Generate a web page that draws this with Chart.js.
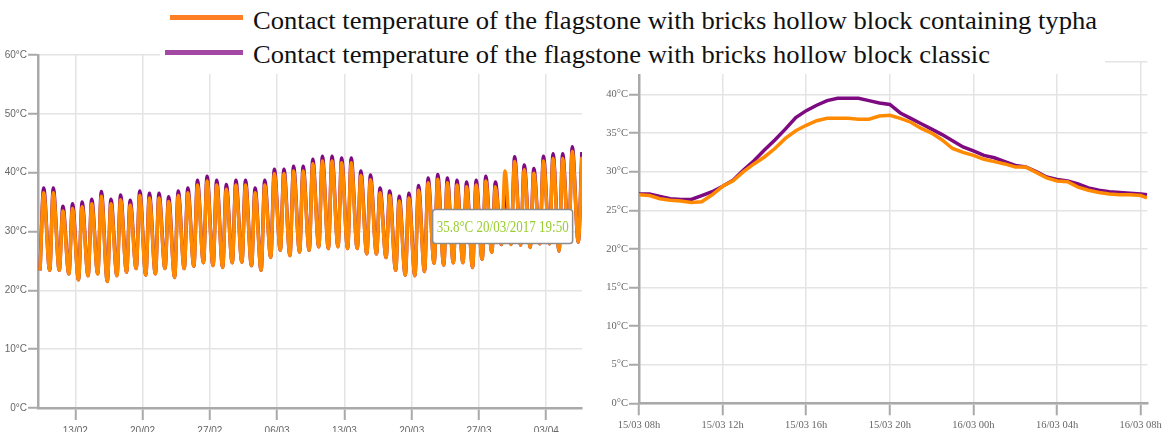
<!DOCTYPE html>
<html>
<head>
<meta charset="utf-8">
<script src="https://cdn.jsdelivr.net/npm/chart.js@4.4.1/dist/chart.umd.min.js"></script>
<style>
  html, body { margin: 0; padding: 0; background: #fff; overflow: hidden; width: 1166px; height: 432px; }
  #left { position: absolute; left: 0; top: 40px; }
  #right { position: absolute; left: 590px; top: 40px; }
  #legend { position: absolute; left: 160px; top: 0; width: 945px; height: 74px; background: #fff;
            font-family: "Liberation Serif", "Times New Roman", serif; font-size: 25px; color: #111; }
  .swatch { position: absolute; height: 5px; }
  .label { position: absolute; left: 93px; white-space: nowrap; line-height: 25px; transform-origin: 0 50%; }
</style>
</head>
<body>
<canvas id="left" width="600" height="400"></canvas>
<canvas id="right" width="576" height="392"></canvas>
<div id="legend"></div>

<script>
// ---- data ----
const seriesNames = [
  'Contact temperature of the flagstone with bricks hollow block containing typha',
  'Contact temperature of the flagstone with bricks hollow block classic'
];

// left chart: daily minimum / maximum, one value per day starting 09/02/2017
// (day numbers are counted from 13/02 = 0)
const leftFirstDay = -4;
const leftTroughHour = 8;
const leftPeakHour = 17;
const leftTrough = [
  23.4, 23.4, 23.4, 22.8, 21.8, 22.5, 22.8, 21.5, 22.5, 23.1,
  23.7, 22.6, 22.8, 23.7, 22.2, 23.7, 24.1, 24.7, 24.2, 23.9,
  24.7, 24.8, 24.2, 23.4, 25.6, 26.8, 25.9, 26.5,
  26.8, 27.4, 27.1, 27.4, 27.1, 27.1, 26.2, 26.2, 25.6, 23.4,
  22.6, 22.5, 23.2, 24.6, 24.3, 24.7, 24.7, 23.9, 25.3, 26.5,
  27.8, 27.8, 27.7, 27.3, 27.9, 27.9, 26.7, 28.3, 28.2
];
const leftPeakClassic = [
  37.4, 37.4, 34.3, 34.7, 35.0, 35.5, 36.8, 35.5, 36.2, 35.3,
  36.9, 36.5, 36.5, 35.9, 36.9, 37.4, 38.7, 39.4, 38.7, 38.0,
  38.7, 38.7, 37.4, 38.7, 40.6, 40.6, 41.1, 41.1,
  42.3, 42.8, 42.8, 42.5, 42.5, 40.3, 39.6, 37.4, 36.9, 36.0,
  36.5, 37.8, 39.1, 39.7, 39.1, 38.7, 38.4, 38.7, 39.4, 38.4,
  37.2, 42.7, 41.3, 40.7, 42.8, 43.2, 43.2, 44.4, 43.5
];
const leftPeakTypha = [
  36.6, 36.6, 33.5, 33.9, 34.2, 34.7, 36.0, 34.7, 35.4, 34.5,
  36.1, 35.7, 35.7, 35.1, 36.1, 36.6, 37.9, 38.6, 37.9, 37.2,
  37.9, 37.9, 36.6, 37.9, 39.8, 39.8, 40.3, 40.3,
  41.5, 42.0, 42.0, 41.7, 41.7, 39.5, 38.8, 36.6, 36.1, 35.2,
  35.7, 37.0, 38.3, 38.9, 38.3, 37.9, 37.6, 37.9, 38.6, 37.6,
  40.3, 41.9, 40.5, 39.9, 42.0, 42.4, 42.4, 43.6, 42.7
];
const leftTickDays = [0, 7, 14, 21, 28, 35, 42, 49];
const leftTickLabels = ['13/02', '20/02', '27/02', '06/03', '13/03', '20/03', '27/03', '03/04'];
const leftYTicks = [0, 10, 20, 30, 40, 50, 60];

// hovered value shown in the left chart
const tipDay = 35 + (19 + 50 / 60) / 24;
const tipValue = 35.8;
const tipText = '35.8°C 20/03/2017 19:50';

// right chart: 15/03 08h -> 16/03 08h, hours from 15/03 08h
const rightHours = [
  0, 0.5, 1, 1.5, 2, 2.5, 3, 3.5, 4, 4.5, 5, 5.5, 6, 6.5, 7, 7.5, 8, 8.5, 9, 9.5,
  10, 10.5, 11, 11.5, 12, 12.5, 13, 13.5, 14, 14.5, 15, 15.5, 16, 16.5, 17, 17.5,
  18, 18.5, 19, 19.5, 20, 20.5, 21, 21.5, 22, 22.5, 23, 23.5, 24, 24.3
];
const rightTypha = [
  27.0, 26.9, 26.5, 26.3, 26.2, 26.0, 26.1, 27.0, 28.1, 28.8, 30.0, 31.0, 31.9, 33.0, 34.3, 35.3, 36.0, 36.6, 36.9, 36.9,
  36.9, 36.8, 36.8, 37.2, 37.3, 36.9, 36.4, 35.6, 35.0, 34.1, 33.0, 32.5, 32.1, 31.6, 31.3, 31.0,
  30.6, 30.6, 29.9, 29.2, 28.8, 28.7, 28.0, 27.6, 27.3, 27.1, 27.0, 27.0, 26.9, 26.6
];
const rightClassic = [
  27.1, 27.1, 26.8, 26.5, 26.4, 26.4, 26.9, 27.4, 28.1, 28.9, 30.2, 31.4, 32.8, 34.1, 35.5, 37.0, 37.9, 38.6, 39.2, 39.5,
  39.5, 39.5, 39.2, 38.9, 38.7, 37.6, 36.9, 36.2, 35.5, 34.8, 34.0, 33.2, 32.7, 32.1, 31.8, 31.3,
  30.8, 30.6, 30.0, 29.3, 29.0, 28.8, 28.4, 27.9, 27.6, 27.4, 27.3, 27.2, 27.1, 27.0
];
const rightTickHours = [0, 4, 8, 12, 16, 20, 24];
const rightTickLabels = ['15/03 08h', '15/03 12h', '15/03 16h', '15/03 20h', '16/03 00h', '16/03 04h', '16/03 08h'];
const rightYTicks = [0, 5, 10, 15, 20, 25, 30, 35, 40];

// ---- styles ----
const lineOrange = '#ff8a00';
const linePurple = '#7d0a80';
const legendColors = ['#ff7f27', '#a349a4'];
const gridColor = '#e4e4e4';
const axisColor = '#a9a9a9';

// ---- legend (shared by both charts) ----
const legend = document.getElementById('legend');
const labelEls = [];
seriesNames.forEach((name, i) => {
  const sw = document.createElement('div');
  sw.className = 'swatch';
  sw.style.background = legendColors[i];
  sw.style.left = (i === 0 ? 10 : 5) + 'px';
  sw.style.width = (i === 0 ? 73 : 78) + 'px';
  sw.style.top = (i === 0 ? 15 : 50) + 'px';
  legend.appendChild(sw);
  const lb = document.createElement('div');
  lb.className = 'label';
  lb.style.top = (i === 0 ? 8 : 42) + 'px';
  lb.textContent = name;
  legend.appendChild(lb);
  labelEls.push(lb);
});
// the first label spans about 844px in the picture, both rows share the stretch
const stretch = 844 / labelEls[0].getBoundingClientRect().width;
labelEls.forEach(el => { el.style.transform = 'scaleX(' + stretch + ')'; });

// ---- build points ----
function dailyPoints(peaks) {
  const pts = [];
  peaks.forEach((p, i) => {
    const d = leftFirstDay + i;
    pts.push({ x: d + leftTroughHour / 24, y: leftTrough[i] });
    pts.push({ x: d + leftPeakHour / 24, y: p });
  });
  return pts;
}
const leftTyphaPts = dailyPoints(leftPeakTypha);
const leftClassicPts = dailyPoints(leftPeakClassic);

const tipPlugin = {
  id: 'tip',
  afterDatasetsDraw(chart) {
    const { ctx, scales } = chart;
    const px = scales.x.getPixelForValue(tipDay);
    const py = scales.y.getPixelForValue(tipValue);
    const bx = px + 13, by = py + 12, w = 140, h = 34;
    ctx.save();
    ctx.beginPath();
    ctx.roundRect(bx, by, w, h, 3);
    ctx.fillStyle = '#fff';
    ctx.fill();
    ctx.lineWidth = 1.5;
    ctx.strokeStyle = '#8c8c8c';
    ctx.stroke();
    ctx.font = '17px "Liberation Serif"';
    ctx.fillStyle = '#9acd32';
    ctx.textBaseline = 'middle';
    ctx.fillText(tipText, bx + 4, by + h / 2 + 1, w - 8);
    ctx.restore();
  }
};

function axisX(min, max, tickVals, tickLabels, height, font, pad) {
  return {
    type: 'linear', min: min, max: max,
    afterBuildTicks: s => { s.ticks = tickVals.map(v => ({ value: v })); },
    afterFit: s => { s.height = height; },
    grid: { color: gridColor, lineWidth: 1.5, tickColor: axisColor, tickWidth: 2, tickLength: 12 },
    border: { color: axisColor, width: 2.5 },
    ticks: { autoSkip: false, maxRotation: 0, padding: pad, color: '#666', font: font,
             callback: (v, i) => tickLabels[i] }
  };
}
// topLine: also draw a grid line (without label) along the top of the plot
function axisY(min, max, tickVals, width, font, topLine) {
  return {
    min: min, max: max,
    afterBuildTicks: s => {
      s.ticks = tickVals.map(v => ({ value: v }));
      if (topLine) s.ticks.push({ value: max });
    },
    afterFit: s => { s.width = width; },
    grid: { color: gridColor, lineWidth: 1.5, tickColor: axisColor, tickWidth: 2, tickLength: 10 },
    border: { color: axisColor, width: 2.5 },
    ticks: { padding: 1, color: '#666', font: font,
             callback: v => tickVals.includes(v) ? v + '°C' : '' }
  };
}

const leftFont = { family: '"Liberation Sans Narrow", "Liberation Sans", sans-serif', size: 10 };
const rightFont = { family: '"Liberation Serif", serif', size: 10.5 };

new Chart(document.getElementById('left'), {
  type: 'line',
  data: {
    datasets: [
      { label: seriesNames[0], data: leftTyphaPts, borderColor: lineOrange, borderWidth: 3.5,
        pointRadius: 0, cubicInterpolationMode: 'monotone' },
      { label: seriesNames[1], data: leftClassicPts, borderColor: linePurple, borderWidth: 3.5,
        pointRadius: 0, cubicInterpolationMode: 'monotone' }
    ]
  },
  options: {
    responsive: false, animation: false, events: [],
    layout: { padding: { top: 15, right: 18, left: 0, bottom: 0 } },
    plugins: { legend: { display: false }, tooltip: { enabled: false } },
    scales: {
      x: axisX(-3.88, 52.72, leftTickDays, leftTickLabels, 32, leftFont, 5),
      y: axisY(0, 60, leftYTicks, 38, leftFont, false)
    }
  },
  plugins: [tipPlugin]
});

new Chart(document.getElementById('right'), {
  type: 'line',
  data: {
    datasets: [
      { label: seriesNames[0], data: rightHours.map((h, i) => ({ x: h, y: rightTypha[i] })),
        borderColor: lineOrange, borderWidth: 3.5, pointRadius: 0, tension: 0 },
      { label: seriesNames[1], data: rightHours.map((h, i) => ({ x: h, y: rightClassic[i] })),
        borderColor: linePurple, borderWidth: 3.5, pointRadius: 0, tension: 0 }
    ]
  },
  options: {
    responsive: false, animation: false, events: [],
    layout: { padding: { top: 22, right: 13, left: 0, bottom: 0 } },
    plugins: { legend: { display: false }, tooltip: { enabled: false } },
    scales: {
      x: axisX(0, 24.32, rightTickHours, rightTickLabels, 28.7, rightFont, 4),
      y: axisY(0, 44.2, rightYTicks, 49, rightFont, true)
    }
  }
});
</script>
</body>
</html>
